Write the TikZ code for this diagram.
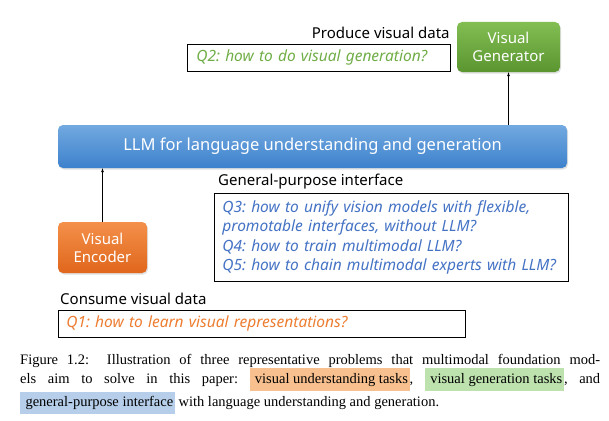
\documentclass[tikz,border=0pt]{standalone}
\usepackage{fontspec}
\setmainfont{Liberation Serif}
\newfontfamily\diagfont{Noto Sans}
\usetikzlibrary{positioning,shadows}

\definecolor{genlight}{HTML}{82BE52}
\definecolor{gendark}{HTML}{5A9530}
\definecolor{llmlight}{HTML}{72AAE0}
\definecolor{llmdark}{HTML}{3D80CC}
\definecolor{enclight}{HTML}{F4904A}
\definecolor{encdark}{HTML}{E0661C}
\definecolor{qgreen}{HTML}{70AD47}
\definecolor{qblue}{HTML}{4472C4}
\definecolor{qorange}{HTML}{ED7D31}
\definecolor{hlorange}{HTML}{F8C08E}
\definecolor{hlgreen}{HTML}{BDE2AE}
\definecolor{hlblue}{HTML}{B6CEE9}

\newcommand{\hlbox}[2]{{\setlength{\fboxsep}{1.7pt}\colorbox{#1}{\strut\ #2}}}
\frenchspacing

\begin{document}
\begin{tikzpicture}[
                            x=1pt, y=-1pt,
                            >=latex,
                            block/.style={rectangle, rounded corners=5pt, text=white, align=center,
                                          font=\diagfont\fontsize{15}{18}\selectfont,
                                          drop shadow={opacity=0.25, shadow xshift=1pt, shadow yshift=-1.5pt}},
                            qbox/.style={draw, thick, rectangle, align=left, inner sep=0pt, anchor=north west,
                                         font=\diagfont\itshape\fontsize{15.5}{19.5}\selectfont},
                            heading/.style={font=\diagfont\fontsize{15}{18}\selectfont, inner sep=0pt}
                            ]

                            \useasboundingbox (0,0) rectangle (609,420);

                            % boxes of the model
                            \node [block, top color=genlight, bottom color=gendark, minimum width=103pt, minimum height=50pt] (gen) at (508.5,47) {Visual\\Generator};
                            \node [block, top color=llmlight, bottom color=llmdark, minimum width=509pt, minimum height=43pt,
                                   font=\diagfont\fontsize{16.5}{20}\selectfont] (llm) at (312.5,146.5) {LLM for language understanding and generation};
                            \node [block, top color=enclight, bottom color=encdark, minimum width=89pt, minimum height=51pt] (enc) at (102.5,247.5) {Visual\\Encoder};

                            % question boxes
                            \node [qbox, text=qgreen, minimum width=263pt, minimum height=27pt, text width=245pt, inner xsep=9pt] (q2box) at (187,44) {Q2: how to do visual generation?};
                            \node [qbox, text=qblue, minimum width=354pt, minimum height=88pt, text width=338pt, inner xsep=8pt] (q3box) at (214,193) {Q3: how to unify vision models with flexible,\\promotable interfaces, without LLM?\\Q4: how to train multimodal LLM?\\Q5: how to chain multimodal experts with LLM?};
                            \node [qbox, text=qorange, minimum width=407pt, minimum height=27pt, text width=391pt, inner xsep=8pt] (q1box) at (58,310) {Q1: how to learn visual representations?};

                            % headings
                            \node [heading, above left=5pt and 1pt of q2box.north east, anchor=south east] (produce) {Produce visual data};
                            \node [heading, above right=4pt and 4pt of q3box.north west, anchor=south west] (general) {General-purpose interface};
                            \node [heading, above right=5pt and 2pt of q1box.north west, anchor=south west] (consume) {Consume visual data};

                            \draw[draw,->] (enc) -- (llm.south -| enc);
                            \draw[draw,->] (llm.north -| gen) -- (gen);

                            % caption
                            \node [anchor=north west, inner sep=0pt, text width=580pt, align=justify,
                                   font=\fontsize{14.5}{19}\selectfont] (caption) at (20,354)
                            {Figure 1.2:\ \ Illustration of three representative problems that multimodal foundation mod-\linebreak
                             els aim to solve in this paper: \hlbox{hlorange}{visual understanding tasks}, \hlbox{hlgreen}{visual generation tasks}, and\linebreak
                             \hlbox{hlblue}{general-purpose interface} with language understanding and generation.\par};

                        \end{tikzpicture}
\end{document}
